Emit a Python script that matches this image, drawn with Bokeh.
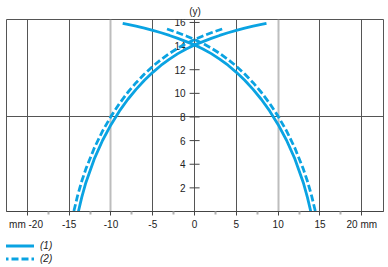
from bokeh.plotting import figure
from bokeh.models import (Range1d, FixedTicker, Grid, Legend, LegendItem, ColumnDataSource)
from bokeh.layouts import column
from bokeh.core.properties import value
from bokeh.embed import file_html
from bokeh.resources import INLINE

# ---- data ----
# curve (1), solid: branch falling to the right
s1a_x = [-8.6, -8.0, -7.0, -6.0, -5.0, -4.0, -3.0, -2.0, -1.0, 0.0, 1.0, 2.0, 3.0, 4.0, 5.0,
         6.0, 7.0, 8.0, 9.0, 10.0, 11.0, 12.0, 13.0, 13.5, 13.9]
s1a_y = [15.93, 15.84, 15.68, 15.52, 15.33, 15.13, 14.9, 14.65, 14.38, 14.1, 13.76, 13.36,
         12.9, 12.38, 11.78, 11.11, 10.34, 9.48, 8.49, 7.35, 6.03, 4.45, 2.46, 1.2, 0.0]
# curve (1), solid: branch falling to the left
s1b_x = [8.6, 8.0, 7.0, 6.0, 5.0, 4.0, 3.0, 2.0, 1.0, 0.0, -1.0, -2.0, -3.0, -4.0, -5.0,
         -6.0, -7.0, -8.0, -9.0, -10.0, -11.0, -12.0, -13.0, -13.5, -13.9]
s1b_y = [15.93, 15.84, 15.68, 15.52, 15.33, 15.13, 14.9, 14.65, 14.38, 14.1, 13.76, 13.36,
         12.9, 12.38, 11.78, 11.11, 10.34, 9.48, 8.49, 7.35, 6.03, 4.45, 2.46, 1.2, 0.0]
# curve (2), dashed: branch falling to the right
s2a_x = [-3.3, -2.0, -1.0, 0.0, 1.0, 2.0, 3.0, 4.0, 5.0, 6.0, 7.0, 8.0, 9.0, 10.0, 11.0,
         12.0, 13.0, 13.5, 14.0, 14.45]
s2a_y = [15.45, 15.13, 14.86, 14.55, 14.22, 13.83, 13.38, 12.87, 12.29, 11.63, 10.9, 10.07,
         9.13, 8.05, 6.82, 5.37, 3.61, 2.56, 1.33, 0.0]
# curve (2), dashed: branch falling to the left
s2b_x = [3.3, 2.0, 1.0, 0.0, -1.0, -2.0, -3.0, -4.0, -5.0, -6.0, -7.0, -8.0, -9.0, -10.0, -11.0,
         -12.0, -13.0, -13.5, -14.0, -14.45]
s2b_y = [15.45, 15.13, 14.86, 14.55, 14.22, 13.83, 13.38, 12.87, 12.29, 11.63, 10.9, 10.07,
         9.13, 8.05, 6.82, 5.37, 3.61, 2.56, 1.33, 0.0]

x_ticks = [-20, -15, -10, -5, 0, 5, 10, 15, 20]
x_minor = [-17.5, -12.5, -7.5, -2.5, 2.5, 7.5, 12.5, 17.5]
x_tick_labels = ["mm  -20", "-15", "-10", "-5", "0", "5", "10", "15", "20 mm"]
y_ticks = [2, 4, 6, 8, 10, 12, 14, 16]
y_tick_labels = ["2", "4", "6", "8", "10", "12", "14", "16"]
series_names = ["(1)", "(2)"]

BLUE = "#0aa3e2"
GRID = "#555555"
FONT = "Liberation Sans"
LW = 2.8

p = figure(width=388, height=236, output_backend="svg", toolbar_location=None,
           x_range=Range1d(-22.5, 22.6), y_range=Range1d(0, 16.25),
           y_axis_location=None, min_border_left=6, min_border_right=5,
           min_border_top=18, min_border_bottom=25)
p.background_fill_color = "white"
p.border_fill_color = "white"
p.outline_line_color = GRID
p.outline_line_width = 1

# title "(y)"
p.title.text = "(y)"
p.title.align = "center"
p.title.text_font = FONT
p.title.text_font_size = "10px"
p.title.text_font_style = "normal"
p.title.text_color = "#222222"
p.title.standoff = 6

# grids
p.xgrid.ticker = FixedTicker(ticks=[t for t in x_ticks if abs(t) != 10])
p.xgrid.grid_line_color = GRID
p.xgrid.grid_line_width = 1
p.add_layout(Grid(dimension=0, ticker=FixedTicker(ticks=[t for t in x_ticks if abs(t) == 10]),
                  grid_line_color="#bdbdbd", grid_line_width=2))
p.ygrid.ticker = FixedTicker(ticks=[8])
p.ygrid.grid_line_color = GRID
p.ygrid.grid_line_width = 1

# x axis
ax = p.xaxis[0]
ax.ticker = FixedTicker(ticks=x_ticks, minor_ticks=x_minor)
ax.major_label_overrides = dict(zip(x_ticks, x_tick_labels))
ax.axis_line_color = "#444444"
ax.major_tick_line_color = "#444444"
ax.major_tick_in = 0
ax.major_tick_out = 4
ax.minor_tick_in = 0
ax.minor_tick_out = 3
ax.minor_tick_line_color = "#b0b0b0"
ax.minor_tick_line_width = 2
ax.major_label_standoff = 3
ax.major_label_text_font = FONT
ax.major_label_text_font_size = "10px"
ax.major_label_text_color = "#222222"

# y axis drawn at x = 0
ysrc = ColumnDataSource(dict(x=[0] * len(y_ticks), y=y_ticks, t=y_tick_labels))
p.scatter("x", "y", source=ysrc, marker="dash", size=10, line_color="#444444", line_width=1)
p.text("x", "y", text="t", source=ysrc, x_offset=-9, text_align="right",
       text_baseline="middle", text_font=value(FONT), text_font_size="10px",
       text_color="#222222")

# curves
p.line(s1a_x, s1a_y, line_color=BLUE, line_width=LW)
p.line(s1b_x, s1b_y, line_color=BLUE, line_width=LW)
p.line(s2a_x, s2a_y, line_color=BLUE, line_width=LW, line_dash="7 3")
p.line(s2b_x, s2b_y, line_color=BLUE, line_width=LW, line_dash="7 3")

# legend strip below the chart (its own renderers sit outside its visible ranges)
lf = figure(width=388, height=31, output_backend="svg", toolbar_location=None,
            x_range=Range1d(100, 101), y_range=Range1d(100, 101),
            x_axis_location=None, y_axis_location=None,
            min_border_left=0, min_border_right=0, min_border_top=0, min_border_bottom=0)
lf.outline_line_color = None
lf.xgrid.visible = False
lf.ygrid.visible = False
k1 = lf.line(s1a_x, s1a_y, line_color=BLUE, line_width=LW)
k2 = lf.line(s2a_x, s2a_y, line_color=BLUE, line_width=LW, line_dash="7 3")
legend = Legend(items=[LegendItem(label=series_names[0], renderers=[k1]),
                       LegendItem(label=series_names[1], renderers=[k2])],
                orientation="vertical", location=(-5, 2))
legend.border_line_color = None
legend.background_fill_alpha = 0
legend.padding = 0
legend.margin = 0
legend.spacing = 0
legend.glyph_width = 33
legend.glyph_height = 13
legend.label_standoff = 6
legend.label_text_font = FONT
legend.label_text_font_size = "10px"
legend.label_text_font_style = "italic"
legend.label_text_color = "#222222"
legend.label_height = 13
lf.add_layout(legend, "center")

open("out.html", "w").write(file_html(column(p, lf, spacing=0), INLINE))
